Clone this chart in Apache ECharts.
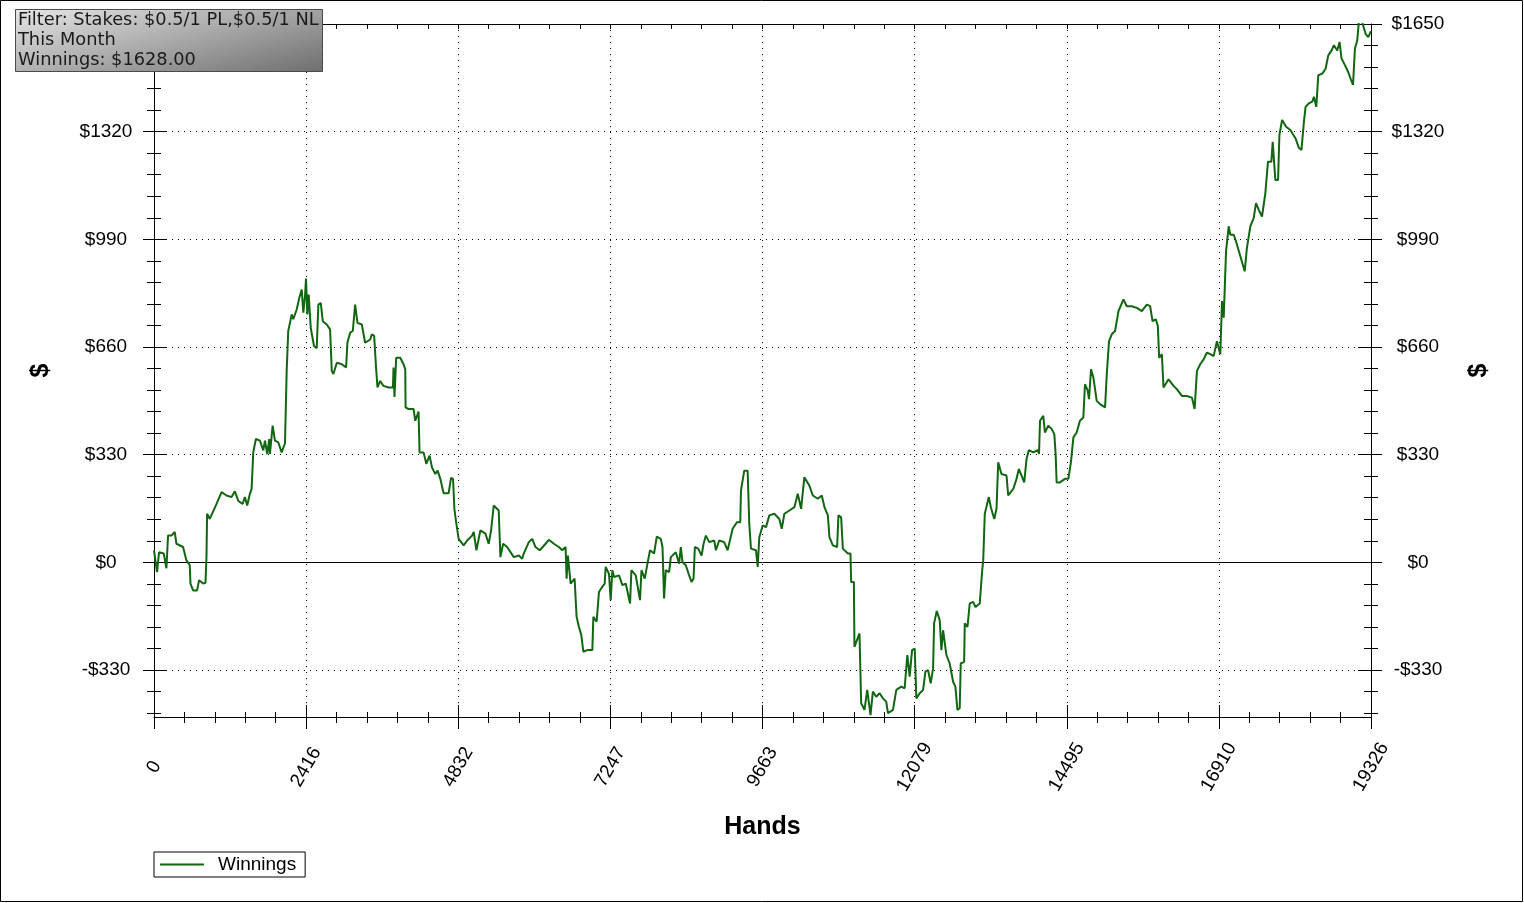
<!DOCTYPE html>
<html>
<head>
<meta charset="utf-8">
<script src="https://cdn.jsdelivr.net/npm/echarts@6/dist/echarts.min.js"></script>
<style>
html,body{margin:0;padding:0;background:#fff;}
#chart{width:1524px;height:903px;}
</style>
</head>
<body>
<div id="chart"></div>
<script>
// ---- data ----
const hands = [0,48,80,155,197,223,277,329,356,462,515,568,579,621,684,716,780,818,834,843,886,993,1073,1152,1232,1284,1337,1407,1443,1480,1523,1550,1576,1618,1682,1735,1762,1798,1830,1841,1884,1921,1973,2027,2080,2107,2132,2187,2212,2266,2308,2346,2371,2398,2414,2435,2457,2489,2541,2584,2610,2648,2680,2743,2796,2823,2849,2903,2982,3051,3071,3115,3157,3194,3231,3300,3353,3433,3460,3496,3528,3549,3592,3644,3724,3794,3804,3819,3846,3910,3963,3990,3995,4042,4122,4149,4201,4217,4281,4324,4376,4414,4467,4504,4547,4599,4679,4717,4749,4770,4800,4838,4917,4972,5051,5077,5120,5183,5263,5315,5353,5395,5474,5501,5544,5608,5713,5793,5847,5872,5952,6006,6058,6127,6218,6270,6350,6429,6483,6536,6552,6573,6616,6679,6711,6748,6786,6818,6881,6961,6977,7029,7066,7119,7157,7172,7225,7252,7279,7305,7384,7438,7491,7560,7581,7650,7718,7741,7793,7836,7877,7941,7984,8048,8075,8100,8127,8180,8207,8286,8339,8366,8393,8445,8498,8536,8568,8589,8641,8696,8727,8764,8817,8896,8923,8975,9055,9109,9189,9257,9310,9321,9373,9427,9453,9480,9559,9587,9612,9666,9719,9771,9851,9930,9969,10010,10090,10169,10223,10276,10328,10408,10462,10541,10605,10647,10701,10726,10780,10848,10869,10912,10939,11018,11060,11071,11114,11123,11203,11230,11283,11326,11378,11416,11469,11522,11576,11628,11655,11735,11788,11867,11920,11963,12000,12038,12080,12106,12159,12213,12250,12292,12334,12372,12388,12430,12477,12504,12531,12583,12636,12690,12726,12758,12795,12811,12865,12875,12918,12954,13008,13045,13113,13152,13168,13193,13257,13289,13343,13379,13406,13458,13538,13565,13645,13697,13734,13777,13819,13856,13893,13964,14033,14054,14070,14122,14148,14201,14254,14297,14318,14334,14386,14466,14520,14561,14600,14652,14704,14758,14784,14827,14848,14880,14918,14970,15023,15103,15130,15166,15209,15262,15316,15395,15448,15527,15607,15686,15766,15819,15857,15909,15941,15962,16005,16031,16111,16191,16243,16323,16402,16482,16525,16562,16614,16668,16721,16774,16827,16880,16933,16960,16987,17024,17066,17092,17146,17182,17251,17320,17355,17410,17463,17500,17542,17595,17648,17690,17744,17765,17807,17850,17871,17914,17978,18046,18126,18180,18222,18261,18287,18340,18393,18420,18457,18489,18552,18605,18648,18700,18737,18790,18827,18858,18912,18964,19001,19040,19071,19108,19134,19187,19240,19283,19326];
const winnings = [37,-30,31,27,-18,82,82,93,57,47,6,-9,-65,-86,-86,-55,-65,-63,21,149,133,179,215,205,200,218,189,179,200,174,210,225,337,378,373,343,373,332,378,332,419,373,368,337,365,587,709,760,745,775,811,836,765,816,870,760,821,719,663,656,790,795,739,729,714,587,577,612,607,597,673,704,709,790,734,729,673,683,699,694,592,536,556,541,536,536,597,507,627,627,607,592,475,470,470,434,462,337,337,302,327,291,271,281,256,212,212,259,256,164,120,72,52,67,82,93,37,98,88,57,98,174,159,16,57,47,16,21,11,27,62,72,47,37,57,69,57,47,37,47,-50,21,-65,-50,-167,-198,-223,-274,-269,-269,-167,-182,-91,-75,-65,-14,-35,-116,-24,-45,-40,-70,-65,-126,-24,-40,-116,-24,-50,-4,37,27,79,72,47,-111,-24,-30,16,31,-4,47,1,-9,-40,-60,-50,47,42,21,57,82,62,67,37,67,62,37,103,123,123,220,281,281,118,42,37,-14,77,113,108,144,149,133,103,149,159,169,210,164,261,235,205,195,205,169,144,77,52,47,144,138,42,27,27,-60,-60,-259,-218,-432,-452,-391,-468,-396,-412,-401,-417,-427,-462,-452,-391,-381,-386,-284,-350,-269,-264,-417,-401,-391,-335,-330,-371,-325,-187,-149,-177,-269,-208,-284,-310,-366,-381,-452,-447,-310,-305,-187,-198,-126,-121,-137,-126,-24,6,149,200,169,133,164,307,271,266,205,225,256,286,266,245,317,344,337,344,332,434,449,398,419,409,393,332,245,245,256,256,307,383,398,434,444,546,526,500,592,566,495,485,475,577,678,699,709,770,806,785,785,780,770,790,785,739,745,724,627,638,536,561,541,531,510,510,505,470,587,607,622,643,638,632,678,638,801,750,953,1030,1004,1004,984,938,892,963,1030,1055,1101,1081,1060,1131,1228,1228,1289,1172,1172,1309,1356,1335,1325,1300,1271,1264,1351,1396,1407,1412,1427,1396,1493,1498,1513,1554,1569,1585,1569,1595,1544,1524,1503,1483,1463,1575,1600,1660,1655,1620,1610,1628];
const yTicks = [-330, 0, 330, 660, 990, 1320, 1650];
const xTickLabels = [0, 2416, 4832, 7247, 9663, 12079, 14495, 16910, 19326];
const seriesName = 'Winnings';
const infoLines = ['Filter: Stakes: $0.5/1 PL,$0.5/1 NL', 'This Month', 'Winnings: $1628.00'];

// ---- axis ranges ----
const xMin = 0, xMax = 19326;
const yMin = -474, yMax = 1650;
const yStep = 330;
const yMinor = [];
for (let v = -462; v <= yMax; v += yStep / 5) {
  if (yTicks.indexOf(v) < 0) yMinor.push(v);
}

const FONT = 'Liberation Sans, Arial, sans-serif';
const BOXFONT = '17.8px "DejaVu Sans", Verdana, sans-serif';
const black = '#000';
const lineColor = '#116611';

const chart = echarts.init(document.getElementById('chart'), null, {renderer: 'canvas'});

function xAxisBase(extra) {
  return Object.assign({
    type: 'value', gridIndex: 0, min: xMin, max: xMax, interval: (xMax - xMin) / 8,
    axisLine: {show: false, onZero: false, lineStyle: {color: black, width: 1}},
    axisTick: {show: true, inside: false, length: 12, lineStyle: {color: black, width: 1}},
    minorTick: {show: true, splitNumber: 5, length: 6, lineStyle: {color: black, width: 1}},
    axisLabel: {show: false},
    splitLine: {show: false}
  }, extra);
}
function yAxisBase(extra) {
  return Object.assign({
    type: 'value', gridIndex: 0, min: yMin, max: yMax,
    axisLine: {show: false, onZero: false, lineStyle: {color: black, width: 1}},
    axisLabel: {show: false},
    splitLine: {show: false}
  }, extra);
}
const yLabelFmt = v => (v < 0 ? '-$' : '$') + Math.abs(v);

const option = {
  animation: false,
  backgroundColor: '#fff',
  grid: {left: 154, right: 153, top: 24, bottom: 186, containLabel: false},
  legend: {
    show: true, left: 154, top: 852, orient: 'horizontal',
    data: [{name: seriesName, icon: 'rect'}],
    itemWidth: 44, itemHeight: 2, itemGap: 10,
    borderColor: black, borderWidth: 1, borderRadius: 0,
    padding: [3, 9, 3, 6],
    textStyle: {fontFamily: FONT, fontSize: 19, color: black, padding: [0, 0, 0, 9]}
  },
  xAxis: [
    xAxisBase({
      position: 'bottom',
      axisLine: {show: true, onZero: false, lineStyle: {color: black, width: 1}},
      axisLabel: {
        show: true, rotate: 60, align: 'center', verticalAlign: 'middle', margin: 50,
        fontFamily: FONT, fontSize: 19, color: black,
        formatter: v => String(xTickLabels[Math.round(v / ((xMax - xMin) / 8))])
      },
      splitLine: {show: true, lineStyle: {color: black, width: 1, type: [1, 5]}},
      name: 'Hands', nameLocation: 'middle', nameGap: 98,
      nameTextStyle: {fontFamily: FONT, fontSize: 25, fontWeight: 'bold', color: black}
    }),
    xAxisBase({position: 'bottom', axisTick: {show: true, inside: true, length: 12, lineStyle: {color: black}},
      minorTick: {show: true, splitNumber: 5, length: 5, lineStyle: {color: black}}}),
    xAxisBase({position: 'top',
      axisLine: {show: true, onZero: false, lineStyle: {color: black, width: 1}},
      axisTick: {show: true, inside: true, length: 5, lineStyle: {color: black}},
      minorTick: {show: true, splitNumber: 5, length: 5, lineStyle: {color: black}}})
  ],
  yAxis: [
    yAxisBase({
      position: 'left',
      axisLine: {show: true, onZero: false, lineStyle: {color: black, width: 1}},
      axisTick: {show: true, inside: false, length: 11, customValues: yTicks, lineStyle: {color: black}},
      axisLabel: {show: true, customValues: yTicks, margin: 48, align: 'center', formatter: yLabelFmt,
        fontFamily: FONT, fontSize: 19, color: black},
      splitLine: {show: true, lineStyle: {color: black, width: 1, type: [1, 5]}},
      name: '$', nameLocation: 'middle', nameGap: 100, nameRotate: 90,
      nameTextStyle: {fontFamily: FONT, fontSize: 25, fontWeight: 'bold', color: black}
    }),
    yAxisBase({position: 'left', axisTick: {show: true, inside: true, length: 12, customValues: yTicks, lineStyle: {color: black}}}),
    yAxisBase({position: 'left', axisTick: {show: true, inside: false, length: 7, customValues: yMinor, lineStyle: {color: black}}}),
    yAxisBase({position: 'left', axisTick: {show: true, inside: true, length: 7, customValues: yMinor, lineStyle: {color: black}}}),
    yAxisBase({
      position: 'right',
      axisLine: {show: true, onZero: false, lineStyle: {color: black, width: 1}},
      axisTick: {show: true, inside: false, length: 11, customValues: yTicks, lineStyle: {color: black}},
      axisLabel: {show: true, customValues: yTicks, margin: 47, align: 'center', formatter: yLabelFmt,
        fontFamily: FONT, fontSize: 19, color: black},
      name: '$', nameLocation: 'middle', nameGap: 96, nameRotate: 90,
      nameTextStyle: {fontFamily: FONT, fontSize: 25, fontWeight: 'bold', color: black}
    }),
    yAxisBase({position: 'right', axisTick: {show: true, inside: true, length: 13, customValues: yTicks, lineStyle: {color: black}}}),
    yAxisBase({position: 'right', axisTick: {show: true, inside: false, length: 7, customValues: yMinor, lineStyle: {color: black}}}),
    yAxisBase({position: 'right', axisTick: {show: true, inside: true, length: 7, customValues: yMinor, lineStyle: {color: black}}})
  ],
  series: [{
    name: seriesName,
    type: 'line',
    xAxisIndex: 0, yAxisIndex: 0,
    data: hands.map((h, i) => [h, winnings[i]]),
    symbol: 'none', showSymbol: false,
    clip: true,
    lineStyle: {color: lineColor, width: 2},
    itemStyle: {color: lineColor},
    z: 5,
    markLine: {
      silent: true, symbol: ['none', 'none'], label: {show: false},
      lineStyle: {color: black, width: 1, type: 'solid'},
      data: [{yAxis: 0}],
      z: 4
    }
  }],
  graphic: [
    {type: 'rect', z: 100, silent: true,
      shape: {x: 0.5, y: 0.5, width: 1522, height: 901},
      style: {fill: 'none', stroke: '#000', lineWidth: 1}},
    {type: 'rect', z: 100, silent: true,
      shape: {x: 15.5, y: 9.5, width: 307, height: 62},
      style: {
        fill: new echarts.graphic.LinearGradient(0, 0, 0.12, 2.19, [
          {offset: 0, color: '#e6e6e6'}, {offset: 1, color: '#6c6c6c'}
        ]),
        stroke: '#4a4a4a', lineWidth: 1
      }},
    {type: 'text', z: 101, silent: true, x: 18, y: 20.5, style: {text: infoLines[0], font: BOXFONT, fill: '#1a1a1a', verticalAlign: 'middle'}},
    {type: 'text', z: 101, silent: true, x: 18, y: 40.5, style: {text: infoLines[1], font: BOXFONT, fill: '#1a1a1a', verticalAlign: 'middle'}},
    {type: 'text', z: 101, silent: true, x: 18, y: 60, style: {text: infoLines[2], font: BOXFONT, fill: '#1a1a1a', verticalAlign: 'middle'}}
  ]
};
chart.setOption(option);
</script>
</body>
</html>
